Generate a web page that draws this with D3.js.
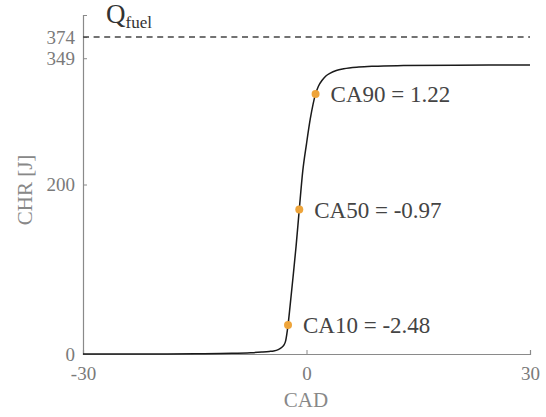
<!DOCTYPE html>
<html>
<head>
<meta charset="utf-8">
<script src="https://cdn.jsdelivr.net/npm/d3@7"></script>
<style>
  html, body { margin: 0; padding: 0; background: #fff; }
  svg { display: block; }
  svg text { font-family: "Liberation Serif", "Times New Roman", "DejaVu Serif", serif; }
</style>
</head>
<body>
<svg id="chart" width="546" height="417"></svg>
<script>
// Cumulative heat release vs crank angle
const cad = [-30, -20, -15, -10, -7.5, -6, -5, -4.4, -3.8, -3.3, -3.0, -2.8, -2.48, -2.2, -1.85, -1.4, -0.97, -0.5, 0, 0.5, 1.22, 1.6, 2.1, 2.6, 3.2, 4, 5, 7, 9, 13, 20, 30];
const chr = [0, 0, 0.3, 0.8, 1.5, 2.3, 3.0, 3.6, 5.2, 8, 11, 15.5, 34.1, 57, 87, 127, 170.5, 216, 248, 277, 306.9, 316, 323, 328, 331.5, 334.5, 336.5, 338.5, 339.5, 340.3, 340.8, 341];

// Combustion phasing markers
const caNames = ["CA10", "CA50", "CA90"];
const caValues = [-2.48, -0.97, 1.22];
const caFractions = [0.10, 0.50, 0.90];

const qFuel = 374;
const xTicks = [-30, 0, 30];
const yTicks = [0, 200, 349, 374];

const serif = "'Liberation Serif', 'Times New Roman', 'DejaVu Serif', serif";
const svg = d3.select("#chart");
const x = d3.scaleLinear().domain([-30, 30]).range([83, 530]);
const y = d3.scaleLinear().domain([0, 400]).range([354, 15]);

const axisColor = "#8a8a8a";
const tickText = "#7a7a7a";

// Axes with inward ticks; plain hyphen for negatives
const fmt = d => String(d);
const gx = svg.append("g").attr("transform", `translate(0,${y(0)})`)
  .call(d3.axisBottom(x).tickValues(xTicks).tickSizeInner(-4).tickSizeOuter(-4).tickPadding(13)
    .tickFormat(fmt));
const gy = svg.append("g").attr("transform", `translate(${x(-30)},0)`)
  .call(d3.axisLeft(y).tickValues(yTicks).tickSizeInner(-4).tickSizeOuter(-4).tickPadding(8)
    .tickFormat(fmt));
[gx, gy].forEach(g => {
  g.attr("font-family", serif).attr("font-size", 19);
  g.selectAll("path.domain").attr("stroke", axisColor).attr("stroke-width", 1.2);
  g.selectAll(".tick line").attr("stroke", axisColor).attr("stroke-width", 1);
  g.selectAll(".tick text").attr("fill", tickText).style("font-family", serif).style("font-size", "19px");
});
gx.selectAll(".tick text").attr("dy", "0.71em");

// Fuel energy reference line
svg.append("line")
  .attr("x1", x(-30)).attr("x2", x(30))
  .attr("y1", y(qFuel)).attr("y2", y(qFuel))
  .attr("stroke", "#444").attr("stroke-width", 1.4)
  .attr("stroke-dasharray", "6,4.6");

const qLabel = svg.append("text").attr("x", 106).attr("y", 23).attr("fill", "#333").style("font-family", serif);
qLabel.append("tspan").attr("font-size", 27).text("Q");
qLabel.append("tspan").attr("font-size", 17).attr("dy", 5).text("fuel");

// Heat release curve
const pts = cad.map((c, i) => [c, chr[i]]);
svg.append("path")
  .datum(pts)
  .attr("fill", "none")
  .attr("stroke", "#1a1a1a")
  .attr("stroke-width", 1.5)
  .attr("d", d3.line().x(d => x(d[0])).y(d => y(d[1])).curve(d3.curveMonotoneX));

// Phasing markers
const qMax = d3.max(chr);
const markers = caNames.map((n, i) => ({ name: n, ca: caValues[i], q: caFractions[i] * qMax }));
svg.selectAll("circle.ca").data(markers).join("circle")
  .attr("class", "ca")
  .attr("cx", d => x(d.ca)).attr("cy", d => y(d.q)).attr("r", 4)
  .attr("fill", "#eea43a");
svg.selectAll("text.ca").data(markers).join("text")
  .attr("class", "ca")
  .attr("x", d => x(d.ca) + 15).attr("y", d => y(d.q))
  .attr("dy", "0.35em")
  .style("font-family", serif)
  .attr("font-size", 23).attr("fill", "#444")
  .text(d => `${d.name} = ${d.ca.toFixed(2)}`);

// Axis titles
svg.append("text").attr("x", 306).attr("y", 407).attr("text-anchor", "middle")
  .style("font-family", serif)
  .attr("font-size", 21).attr("fill", "#888").text("CAD");
svg.append("text").attr("transform", "translate(32,190) rotate(-90)").attr("text-anchor", "middle")
  .style("font-family", serif)
  .attr("font-size", 21).attr("fill", "#888").text("CHR [J]");
</script>
</body>
</html>
